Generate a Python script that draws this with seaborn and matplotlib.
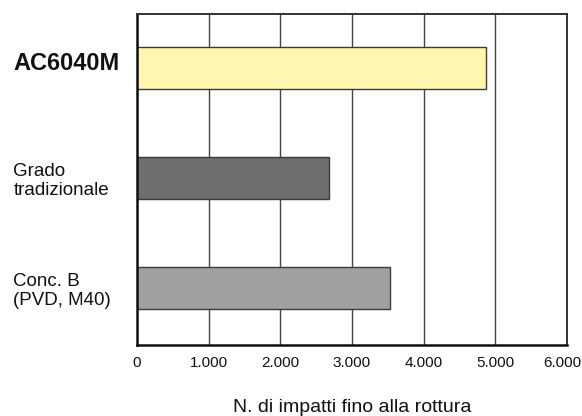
import matplotlib
matplotlib.use("Agg")
import matplotlib.pyplot as plt
import matplotlib.transforms as mtransforms
from matplotlib.ticker import FuncFormatter
import pandas as pd
import seaborn as sns

# ------------------------
# DATI
# ------------------------
categorie = ["AC6040M", "Grado\ntradizionale", "Conc. B\n(PVD, M40)"]
impatti = [4870, 2680, 3530]
colori = ["#fff6b0", "#6e6e6e", "#a0a0a0"]
tick_x = [0, 1000, 2000, 3000, 4000, 5000, 6000]

df = pd.DataFrame({"categoria": categorie, "impatti": impatti})

sns.set_style("white")
plt.rcParams["font.family"] = ["Liberation Sans", "DejaVu Sans"]

fig = plt.figure(figsize=(5.82, 4.16), dpi=100)
ax = fig.add_axes([0.2354, 0.1707, 0.9742 - 0.2354, 0.9663 - 0.1707])

sns.barplot(data=df, x="impatti", y="categoria", hue="categoria",
            palette=colori, saturation=1, orient="h", width=0.385, legend=False,
            edgecolor="#3a3a3a", linewidth=1, ax=ax)

ax.set_xlim(0, 6000)
ax.set_ylim(2.52, -0.49)
ax.set_xticks(tick_x)
ax.xaxis.set_major_formatter(FuncFormatter(lambda v, p: f"{int(v):,}".replace(",", ".")))

ax.set_axisbelow(True)
ax.grid(True, axis="x", color="#444444", linewidth=1)
ax.grid(False, axis="y")

for s in ["left", "bottom"]:
    ax.spines[s].set_color("#111111")
    ax.spines[s].set_linewidth(1.8)
for s in ["top", "right"]:
    ax.spines[s].set_color("#333333")
    ax.spines[s].set_linewidth(1.4)

ax.tick_params(axis="both", length=0)
ax.tick_params(axis="x", pad=8)
ax.tick_params(axis="y", pad=89)

xlabs = ax.get_xticklabels()
for lab in xlabs:
    lab.set_fontsize(11)
    lab.set_color("#111111")
# l'ultima etichetta un po' a sinistra, come nell'originale
xlabs[-1].set_transform(xlabs[-1].get_transform() +
                        mtransforms.ScaledTranslation(-5 / 100, 0, fig.dpi_scale_trans))

for i, lab in enumerate(ax.get_yticklabels()):
    lab.set_horizontalalignment("left")
    lab.set_color("#111111")
    if i == 0:
        lab.set_fontsize(17)
        lab.set_fontweight("bold")
        lab.set_transform(lab.get_transform() +
                          mtransforms.ScaledTranslation(0, 7 / 100, fig.dpi_scale_trans))
    else:
        lab.set_fontsize(13.5)

ax.set_ylabel("")
ax.set_xlabel("N. di impatti fino alla rottura", fontsize=14, color="#111111", labelpad=21)

plt.savefig("out.png", dpi=100)
